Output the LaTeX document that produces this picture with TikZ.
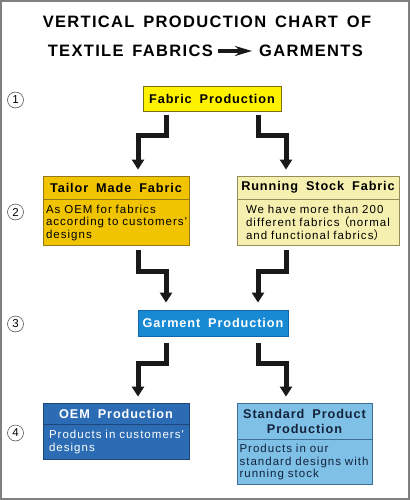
\documentclass[tikz,border=0pt]{standalone}
\usepackage{fontspec}
\setmainfont{Liberation Sans}
\newfontfamily\titlefont[LetterSpace=8,WordSpace=1.5]{Liberation Sans}
\newfontfamily\headfont[LetterSpace=7,WordSpace=1.8]{Liberation Sans}
\newfontfamily\bodyfont[LetterSpace=9]{Liberation Sans}
\newfontfamily\cjk{Noto Sans CJK SC}
\usepackage{tikz}
\usetikzlibrary{arrows.meta, positioning, calc}
\definecolor{fabyellow}{RGB}{255,242,0}
\definecolor{fabedge}{RGB}{120,110,20}
\definecolor{tailorgold}{RGB}{240,196,0}
\definecolor{tailoredge}{RGB}{150,120,20}
\definecolor{stockcream}{RGB}{246,240,176}
\definecolor{stockedge}{RGB}{150,140,90}
\definecolor{garmentblue}{RGB}{24,138,212}
\definecolor{garmentedge}{RGB}{16,100,170}
\definecolor{oemblue}{RGB}{44,108,180}
\definecolor{oemedge}{RGB}{30,70,120}
\definecolor{stdblue}{RGB}{126,192,230}
\definecolor{stdedge}{RGB}{60,110,150}
\definecolor{navytext}{RGB}{20,35,60}
\definecolor{flowblack}{RGB}{25,25,25}
\definecolor{framegray}{RGB}{128,128,128}
\tikzset{
  stage/.style={rectangle, draw, line width=0.8pt, inner sep=0pt, align=center,
                font=\headfont\bfseries\fontsize{12.7}{15}\selectfont},
  cardhead/.style={stage},
  cardbody/.style={rectangle, draw, line width=0.8pt, inner ysep=0pt, align=left,
                   font=\bodyfont\fontsize{11.5}{12.7}\selectfont},
  stepnum/.style={circle, draw=black!75, line width=0.5pt, minimum size=16pt,
                  inner sep=0pt, font=\fontsize{11.5}{11.5}\selectfont},
  flow/.style={-{Triangle[length=10pt,width=12pt]}, line width=5pt,
               draw=flowblack, line join=miter},
  titletext/.style={inner sep=0pt, font=\titlefont\bfseries\fontsize{16.5}{20}\selectfont},
}
\begin{document}
\begin{tikzpicture}[x=1pt, y=-1pt]
  \useasboundingbox (0,0) rectangle (410,500);
  % Frame
  \draw[framegray, line width=2pt] (1,1) rectangle (409,499);

  % Title
  \node[titletext] (title1) at (207,22) {VERTICAL PRODUCTION CHART OF};
  \node[titletext, anchor=east] (title2a) at (213,51) {TEXTILE FABRICS};
  \node[titletext, anchor=west] (title2b) at (259,51) {GARMENTS};
  \draw[-{Stealth[length=17pt,width=10pt]}, line width=4pt, flowblack,
        shorten <=5pt, shorten >=7pt] (title2a.east) -- (title2b.west);

  % Step numbers
  \node[stepnum] (n1) at (15.5,100) {1};
  \node[stepnum] (n2) at (15.5,212) {2};
  \node[stepnum] (n3) at (15.5,324) {3};
  \node[stepnum] (n4) at (15.5,433) {4};

  % Stage 1
  \node[stage, draw=fabedge, fill=fabyellow, minimum width=138pt, minimum height=25pt]
    (fab) at (212,98.5) {Fabric Production};

  % Stage 2
  \node[cardhead, draw=tailoredge, fill=tailorgold, minimum width=146pt, minimum height=23pt]
    (tailorhead) at (116,187.5) {Tailor Made Fabric};
  \node[cardbody, draw=tailoredge, fill=tailorgold, minimum height=46pt,
        inner xsep=3pt, text width=140pt, below=0pt of tailorhead]
    (tailorbody) {As OEM for fabrics\\according to customers'\\designs};
  \node[cardhead, draw=stockedge, fill=stockcream, minimum width=162pt, minimum height=23pt]
    (stockhead) at (318,187.5) {Running Stock Fabric};
  \node[cardbody, draw=stockedge, fill=stockcream, minimum height=46pt,
        inner xsep=9pt, text width=144pt, below=0pt of stockhead]
    (stockbody) {We have more than 200\\
                 \mbox{different fabrics{\cjk\kern-1.5pt （}normal}\\
                 \mbox{and functional fabrics{\cjk ）}}};

  % Stage 3
  \node[stage, draw=garmentedge, fill=garmentblue, text=white, minimum width=150pt, minimum height=26pt]
    (garment) at (213,323) {Garment Production};

  % Stage 4
  \node[cardhead, draw=oemedge, fill=oemblue, text=white, minimum width=146pt, minimum height=21pt]
    (oemhead) at (116,413.5) {OEM Production};
  \node[cardbody, draw=oemedge, fill=oemblue, text=white, minimum height=35pt,
        inner xsep=6pt, text width=134pt, below=0pt of oemhead]
    (oembody) {Products in customers'\\designs};
  \node[cardhead, draw=stdedge, fill=stdblue, text=navytext, minimum width=135pt, minimum height=36pt]
    (stdhead) at (304.5,421) {Standard Product\\Production};
  \node[cardbody, draw=stdedge, fill=stdblue, text=navytext, minimum height=45pt,
        inner xsep=2.5pt, text width=130pt, below=0pt of stdhead]
    (stdbody) {Products in our\\standard designs with\\running stock};

  % Flow arrows
  \draw[flow] ([xshift=-46pt,yshift=-4pt]fab.south) -- ++(0,20)
              -| ([xshift=22pt,yshift=6pt]tailorhead.north);
  \draw[flow] ([xshift=46pt,yshift=-4pt]fab.south) -- ++(0,20)
              -| ([xshift=-32pt,yshift=6pt]stockhead.north);
  \draw[flow] ([xshift=22pt,yshift=-4pt]tailorbody.south) -- ++(0,21)
              -| ([xshift=-47pt,yshift=7pt]garment.north);
  \draw[flow] ([xshift=-32pt,yshift=-4pt]stockbody.south) -- ++(0,21)
              -| ([xshift=45pt,yshift=7pt]garment.north);
  \draw[flow] ([xshift=-47pt,yshift=-7pt]garment.south) -- ++(0,20)
              -| ([xshift=22pt,yshift=6pt]oemhead.north);
  \draw[flow] ([xshift=45pt,yshift=-7pt]garment.south) -- ++(0,20)
              -| ([xshift=-18.5pt,yshift=6pt]stdhead.north);
\end{tikzpicture}
\end{document}
